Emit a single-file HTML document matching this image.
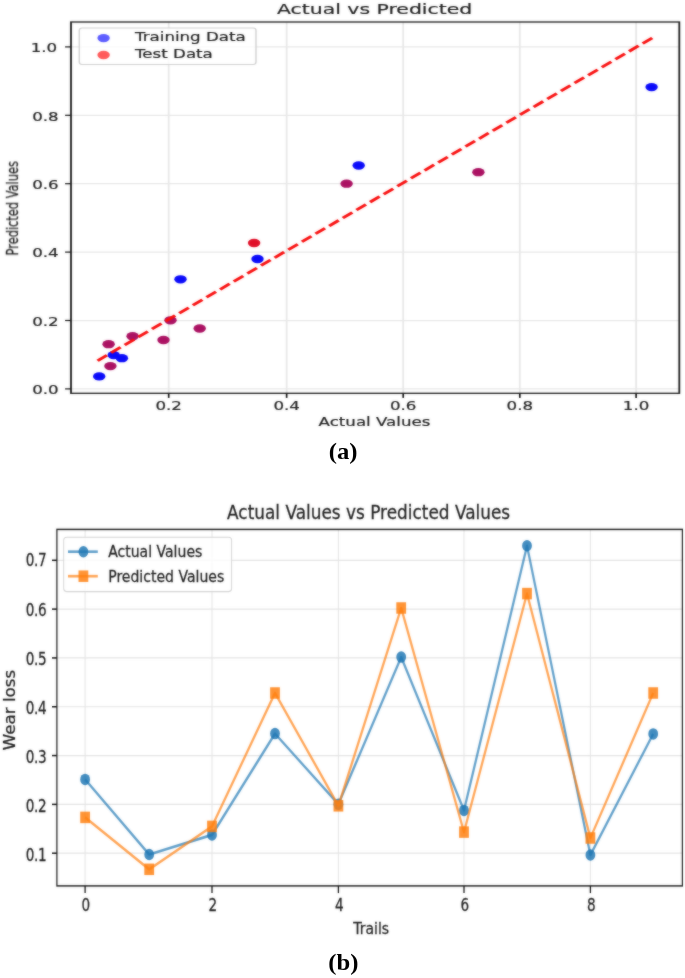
<!DOCTYPE html>
<html lang="en"><head><meta charset="utf-8"><title>Actual vs Predicted</title>
<style>html,body{margin:0;padding:0;background:#fff}body{width:685px;height:978px;overflow:hidden}svg{display:block}.t text{stroke:#1e1e1e;stroke-width:0.28px}.t1 text{stroke-width:0.2px}</style>
</head><body>
<svg width="685" height="978" viewBox="0 0 685 978">
<rect width="685" height="978" fill="#fff"/>
<defs><filter id="soft" x="-2%" y="-2%" width="104%" height="104%" color-interpolation-filters="sRGB"><feGaussianBlur in="SourceGraphic" stdDeviation="0.8" result="b"/><feComposite in="SourceGraphic" in2="b" operator="arithmetic" k1="0" k2="0.5" k3="0.5" k4="0"/></filter></defs>
<g filter="url(#soft)">
<g transform="scale(1.4,1)" font-family='"DejaVu Sans", "Liberation Sans", sans-serif' font-size="11.9" fill="#1e1e1e" class="t t1">
<g stroke="#e7e7e7" stroke-width="1.25" fill="none">
<line x1="120.50" y1="22.0" x2="120.50" y2="393.3"/>
<line x1="204.75" y1="22.0" x2="204.75" y2="393.3"/>
<line x1="288.00" y1="22.0" x2="288.00" y2="393.3"/>
<line x1="371.29" y1="22.0" x2="371.29" y2="393.3"/>
<line x1="454.36" y1="22.0" x2="454.36" y2="393.3"/>
<line x1="50.71" y1="388.90" x2="485.21" y2="388.90"/>
<line x1="50.71" y1="320.50" x2="485.21" y2="320.50"/>
<line x1="50.71" y1="252.10" x2="485.21" y2="252.10"/>
<line x1="50.71" y1="183.70" x2="485.21" y2="183.70"/>
<line x1="50.71" y1="115.30" x2="485.21" y2="115.30"/>
<line x1="50.71" y1="46.90" x2="485.21" y2="46.90"/>
</g>
<ellipse cx="70.86" cy="376.4" rx="4.43" ry="4.15" fill="#0a0afa"/>
<ellipse cx="81.21" cy="355.1" rx="4.43" ry="4.15" fill="#0a0afa"/>
<ellipse cx="87.07" cy="358.2" rx="4.43" ry="4.15" fill="#0a0afa"/>
<ellipse cx="128.93" cy="279.3" rx="4.43" ry="4.15" fill="#0a0afa"/>
<ellipse cx="183.93" cy="259.0" rx="4.43" ry="4.15" fill="#0a0afa"/>
<ellipse cx="256.21" cy="165.5" rx="4.43" ry="4.15" fill="#0a0afa"/>
<ellipse cx="465.43" cy="87.1" rx="4.43" ry="4.15" fill="#0a0afa"/>
<ellipse cx="78.86" cy="366.1" rx="4.43" ry="4.15" fill="#ab1162"/>
<ellipse cx="77.57" cy="344.2" rx="4.43" ry="4.15" fill="#ab1162"/>
<ellipse cx="94.71" cy="336.2" rx="4.43" ry="4.15" fill="#ab1162"/>
<ellipse cx="116.79" cy="340.0" rx="4.43" ry="4.15" fill="#ab1162"/>
<ellipse cx="121.79" cy="320.3" rx="4.43" ry="4.15" fill="#ab1162"/>
<ellipse cx="142.64" cy="328.5" rx="4.43" ry="4.15" fill="#ab1162"/>
<ellipse cx="247.57" cy="183.7" rx="4.43" ry="4.15" fill="#ab1162"/>
<ellipse cx="341.71" cy="172.2" rx="4.43" ry="4.15" fill="#ab1162"/>
<ellipse cx="181.50" cy="243.0" rx="4.43" ry="4.15" fill="#e00f28"/>
<line x1="465.86" y1="37.9" x2="69.71" y2="360.7" stroke="#f90c0c" stroke-width="2.6" stroke-dasharray="8.77 3.79" fill="none"/>
<rect x="50.71" y="22.0" width="434.50" height="371.30" fill="none" stroke="#181818" stroke-width="1.3"/>
<g stroke="#111" stroke-width="1.2">
<line x1="120.50" y1="393.3" x2="120.50" y2="397.90000000000003"/>
<line x1="204.75" y1="393.3" x2="204.75" y2="397.90000000000003"/>
<line x1="288.00" y1="393.3" x2="288.00" y2="397.90000000000003"/>
<line x1="371.29" y1="393.3" x2="371.29" y2="397.90000000000003"/>
<line x1="454.36" y1="393.3" x2="454.36" y2="397.90000000000003"/>
<line x1="50.71" y1="388.90" x2="46.50" y2="388.90"/>
<line x1="50.71" y1="320.50" x2="46.50" y2="320.50"/>
<line x1="50.71" y1="252.10" x2="46.50" y2="252.10"/>
<line x1="50.71" y1="183.70" x2="46.50" y2="183.70"/>
<line x1="50.71" y1="115.30" x2="46.50" y2="115.30"/>
<line x1="50.71" y1="46.90" x2="46.50" y2="46.90"/>
</g>
<text x="120.50" y="410.0" text-anchor="middle">0.2</text>
<text x="204.75" y="410.0" text-anchor="middle">0.4</text>
<text x="288.00" y="410.0" text-anchor="middle">0.6</text>
<text x="371.29" y="410.0" text-anchor="middle">0.8</text>
<text x="454.36" y="410.0" text-anchor="middle">1.0</text>
<text x="41.93" y="394.30" text-anchor="end">0.0</text>
<text x="41.93" y="325.90" text-anchor="end">0.2</text>
<text x="41.93" y="257.50" text-anchor="end">0.4</text>
<text x="41.93" y="189.10" text-anchor="end">0.6</text>
<text x="41.93" y="120.70" text-anchor="end">0.8</text>
<text x="40.86" y="52.30" text-anchor="end">1.0</text>
<text x="267.50" y="425.6" text-anchor="middle">Actual Values</text>
<text transform="translate(13.00,208.3) rotate(-90)" text-anchor="middle" font-size="11.42" >Predicted Values</text>
<text x="267.57" y="14.4" text-anchor="middle" font-size="14.58">Actual vs Predicted</text>
<rect x="56.64" y="27.9" width="126.21" height="36.50" rx="2" ry="2.4" fill="#ffffff" fill-opacity="0.8" stroke="#d0d0d0" stroke-width="1"/>
<ellipse cx="74.00" cy="38.1" rx="4.43" ry="4.15" fill="#5c5cff"/>
<ellipse cx="74.00" cy="55.0" rx="4.43" ry="4.15" fill="#ff5a5a"/>
<text x="96.43" y="41.4">Training Data</text>
<text x="96.43" y="58.1">Test Data</text>
</g>
<g transform="scale(0.85,1)" font-family='"DejaVu Sans", "Liberation Sans", sans-serif' font-size="16.5" fill="#1e1e1e" class="t">
<g stroke="#e4e4e4" stroke-width="1.2" fill="none">
<line x1="100.12" y1="529.4" x2="100.12" y2="885.9"/>
<line x1="249.41" y1="529.4" x2="249.41" y2="885.9"/>
<line x1="398.12" y1="529.4" x2="398.12" y2="885.9"/>
<line x1="545.88" y1="529.4" x2="545.88" y2="885.9"/>
<line x1="694.59" y1="529.4" x2="694.59" y2="885.9"/>
<line x1="66.94" y1="853.20" x2="802.82" y2="853.20"/>
<line x1="66.94" y1="804.38" x2="802.82" y2="804.38"/>
<line x1="66.94" y1="755.57" x2="802.82" y2="755.57"/>
<line x1="66.94" y1="706.75" x2="802.82" y2="706.75"/>
<line x1="66.94" y1="657.93" x2="802.82" y2="657.93"/>
<line x1="66.94" y1="609.12" x2="802.82" y2="609.12"/>
<line x1="66.94" y1="560.30" x2="802.82" y2="560.30"/>
</g>
<polyline points="100.12,779.4 175.53,854.5 249.41,834.9 323.53,733.6 398.12,804.2 472.00,657.1 545.88,810.4 620.00,545.8 694.59,855.0 768.47,733.9" fill="none" stroke="#1f77b4" stroke-width="2.65" stroke-linejoin="round" opacity="0.7"/>
<circle cx="100.12" cy="779.4" r="5.75" fill="#1f77b4" opacity="0.84"/>
<circle cx="175.53" cy="854.5" r="5.75" fill="#1f77b4" opacity="0.84"/>
<circle cx="249.41" cy="834.9" r="5.75" fill="#1f77b4" opacity="0.84"/>
<circle cx="323.53" cy="733.6" r="5.75" fill="#1f77b4" opacity="0.84"/>
<circle cx="398.12" cy="804.2" r="5.75" fill="#1f77b4" opacity="0.84"/>
<circle cx="472.00" cy="657.1" r="5.75" fill="#1f77b4" opacity="0.84"/>
<circle cx="545.88" cy="810.4" r="5.75" fill="#1f77b4" opacity="0.84"/>
<circle cx="620.00" cy="545.8" r="5.75" fill="#1f77b4" opacity="0.84"/>
<circle cx="694.59" cy="855.0" r="5.75" fill="#1f77b4" opacity="0.84"/>
<circle cx="768.47" cy="733.9" r="5.75" fill="#1f77b4" opacity="0.84"/>
<polyline points="100.12,817.4 175.53,869.3 249.41,826.4 323.53,693.0 398.12,805.8 472.00,608.0 545.88,832.1 620.00,593.6 694.59,838.0 768.47,693.0" fill="none" stroke="#ff7f0e" stroke-width="2.65" stroke-linejoin="round" opacity="0.7"/>
<rect x="94.37" y="811.65" width="11.5" height="11.5" fill="#ff7f0e" opacity="0.84"/>
<rect x="169.78" y="863.55" width="11.5" height="11.5" fill="#ff7f0e" opacity="0.84"/>
<rect x="243.66" y="820.65" width="11.5" height="11.5" fill="#ff7f0e" opacity="0.84"/>
<rect x="317.78" y="687.25" width="11.5" height="11.5" fill="#ff7f0e" opacity="0.84"/>
<rect x="392.37" y="800.05" width="11.5" height="11.5" fill="#ff7f0e" opacity="0.84"/>
<rect x="466.25" y="602.25" width="11.5" height="11.5" fill="#ff7f0e" opacity="0.84"/>
<rect x="540.13" y="826.35" width="11.5" height="11.5" fill="#ff7f0e" opacity="0.84"/>
<rect x="614.25" y="587.85" width="11.5" height="11.5" fill="#ff7f0e" opacity="0.84"/>
<rect x="688.84" y="832.25" width="11.5" height="11.5" fill="#ff7f0e" opacity="0.84"/>
<rect x="762.72" y="687.25" width="11.5" height="11.5" fill="#ff7f0e" opacity="0.84"/>
<rect x="66.94" y="529.4" width="735.88" height="356.50" fill="none" stroke="#1c1c1c" stroke-width="1.45"/>
<g stroke="#111" stroke-width="1.5">
<line x1="100.12" y1="885.9" x2="100.12" y2="893.1"/>
<line x1="249.41" y1="885.9" x2="249.41" y2="893.1"/>
<line x1="398.12" y1="885.9" x2="398.12" y2="893.1"/>
<line x1="545.88" y1="885.9" x2="545.88" y2="893.1"/>
<line x1="694.59" y1="885.9" x2="694.59" y2="893.1"/>
<line x1="66.94" y1="853.20" x2="61.18" y2="853.20"/>
<line x1="66.94" y1="804.38" x2="61.18" y2="804.38"/>
<line x1="66.94" y1="755.57" x2="61.18" y2="755.57"/>
<line x1="66.94" y1="706.75" x2="61.18" y2="706.75"/>
<line x1="66.94" y1="657.93" x2="61.18" y2="657.93"/>
<line x1="66.94" y1="609.12" x2="61.18" y2="609.12"/>
<line x1="66.94" y1="560.30" x2="61.18" y2="560.30"/>
</g>
<text transform="translate(101.06,910.7) scale(0.97,1.03)" text-anchor="middle">0</text>
<text transform="translate(250.35,910.7) scale(0.97,1.03)" text-anchor="middle">2</text>
<text transform="translate(399.06,910.7) scale(0.97,1.03)" text-anchor="middle">4</text>
<text transform="translate(546.82,910.7) scale(0.97,1.03)" text-anchor="middle">6</text>
<text transform="translate(695.53,910.7) scale(0.97,1.03)" text-anchor="middle">8</text>
<text transform="translate(54.35,860.65) scale(0.97,1.05)" text-anchor="end" letter-spacing="-0.5">0.1</text>
<text transform="translate(54.35,811.62) scale(0.97,1.05)" text-anchor="end" letter-spacing="-0.5">0.2</text>
<text transform="translate(54.35,762.59) scale(0.97,1.05)" text-anchor="end" letter-spacing="-0.5">0.3</text>
<text transform="translate(54.35,713.56) scale(0.97,1.05)" text-anchor="end" letter-spacing="-0.5">0.4</text>
<text transform="translate(54.35,664.53) scale(0.97,1.05)" text-anchor="end" letter-spacing="-0.5">0.5</text>
<text transform="translate(54.35,615.50) scale(0.97,1.05)" text-anchor="end" letter-spacing="-0.5">0.6</text>
<text transform="translate(54.35,566.47) scale(0.97,1.05)" text-anchor="end" letter-spacing="-0.5">0.7</text>
<text x="436.71" y="933.7" text-anchor="middle">Trails</text>
<text transform="translate(17.53,710.0) rotate(-90) scale(1,1.08)" text-anchor="middle" font-size="16.66">Wear loss</text>
<text x="433.65" y="519.4" text-anchor="middle" font-size="19.90">Actual Values vs Predicted Values</text>
<rect x="74.94" y="537.3" width="197.53" height="54.30" rx="3.5" ry="3" fill="#ffffff" fill-opacity="0.8" stroke="#d4d4d4" stroke-width="1.1"/>
<line x1="80.00" y1="551.7" x2="115.06" y2="551.7" stroke="#1f77b4" stroke-width="2.65" opacity="0.7"/>
<circle cx="98.12" cy="551.7" r="5.75" fill="#1f77b4" opacity="0.84"/>
<line x1="80.00" y1="576.2" x2="115.06" y2="576.2" stroke="#ff7f0e" stroke-width="2.65" opacity="0.7"/>
<rect x="92.37" y="570.45" width="11.5" height="11.5" fill="#ff7f0e" opacity="0.84"/>
<text x="127.29" y="557.2">Actual Values</text>
<text x="127.29" y="581.7">Predicted Values</text>
</g>
</g>
<g font-family='"Liberation Serif", "DejaVu Serif", serif' font-weight="bold" font-size="23.5" fill="#000" text-anchor="middle" transform="scale(1.05,1)">
<text x="326.86" y="459.4">(a)</text>
<text x="326.95" y="970.2">(b)</text>
</g>
</svg></body></html>
